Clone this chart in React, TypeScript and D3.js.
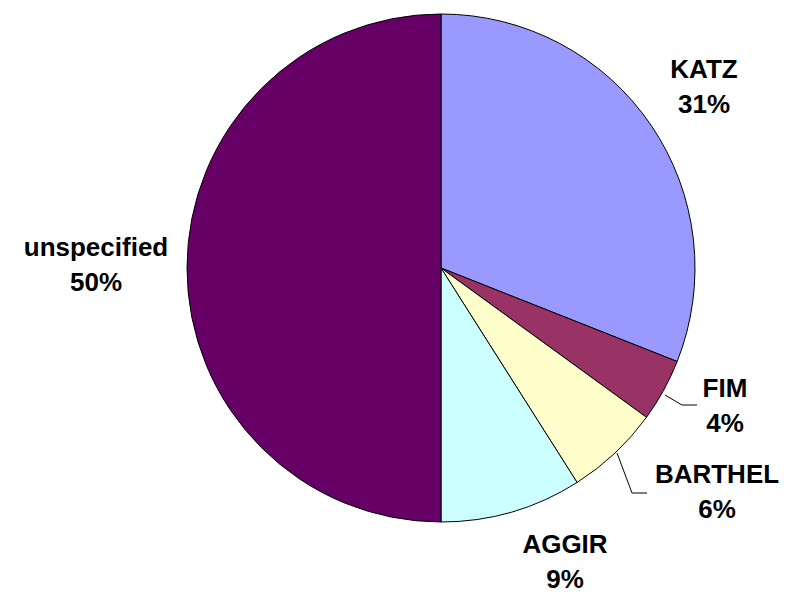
import React from "react";
import * as d3 from "d3";

const categories = ["KATZ", "FIM", "BARTHEL", "AGGIR", "unspecified"];
const values = [31, 4, 6, 9, 50];
const colors = ["#9999FF", "#993366", "#FFFFCC", "#CCFFFF", "#660066"];
const labelPos: [number, number][] = [
  [704, 78],
  [725, 397],
  [717, 483],
  [565, 553],
  [96, 256],
];

export default function App() {
  const W = 797, H = 594;
  const cx = 441, cy = 268, r = 254;
  const data = categories.map((c, i) => ({ c, v: values[i], color: colors[i], lp: labelPos[i] }));
  const pie = d3.pie<any>().value((d) => d.v).sort(null);
  const arcs = pie(data);
  const arc = d3.arc<any>().innerRadius(0).outerRadius(r);
  const total = d3.sum(values);
  const leaders: Record<string, [number, number][]> = {
    FIM: [[665, 395], [682, 405], [697, 405]],
    BARTHEL: [[617, 453], [632, 493], [647, 493]],
  };
  return (
    <svg width={W} height={H} style={{ position: "absolute", left: 0, top: 0 }}>
      <rect width={W} height={H} fill="#fff" />
      <g transform={`translate(${cx},${cy})`}>
        {arcs.map((a, i) => (
          <path key={i} d={arc(a) as string} fill={a.data.color} stroke="#000" strokeWidth={1} />
        ))}
      </g>
      {Object.entries(leaders).map(([k, pts]) => (
        <path key={k} d={d3.line()(pts) as string} fill="none" stroke="#000" strokeWidth={1} />
      ))}
      {data.map((d, i) => (
        <text key={i} x={d.lp[0]} y={d.lp[1]} textAnchor="middle" fontFamily="Liberation Sans, Arial, sans-serif" fontWeight="bold" fontSize={26} fill="#000">
          <tspan x={d.lp[0]}>{d.c}</tspan>
          <tspan x={d.lp[0]} dy={35}>{Math.round((d.v / total) * 100)}%</tspan>
        </text>
      ))}
    </svg>
  );
}
